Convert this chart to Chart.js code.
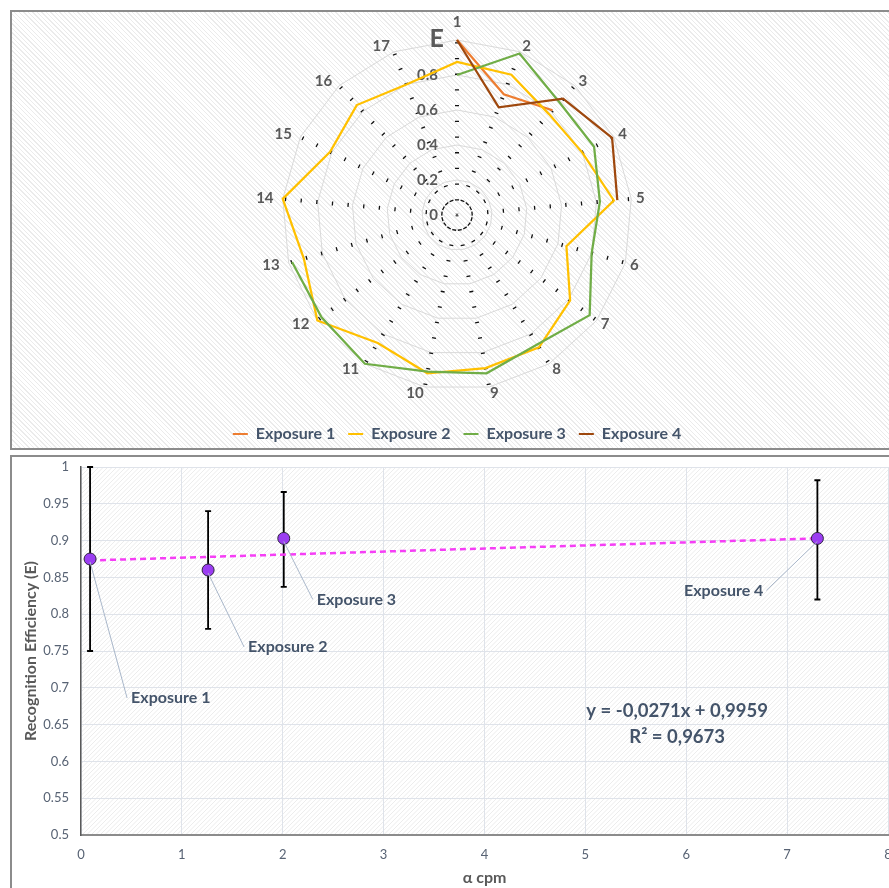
<!DOCTYPE html>
<html>
<head>
<meta charset="utf-8">
<script src="https://cdn.jsdelivr.net/npm/chart.js@4.4.1/dist/chart.umd.min.js"></script>
<style>
  html, body { margin: 0; padding: 0; background: #fff; overflow: hidden; width: 889px; height: 888px; }
  .panel { position: absolute; left: 10px; width: 910px; box-sizing: border-box; border: 2px solid #8c8c8c; overflow: hidden; }
  #top { top: 10px; height: 440px;
    background: repeating-linear-gradient(45deg, #fff 0px, #fff 2.2px, #ebebeb 2.2px, #ebebeb 3.2px); }
  #bot { top: 455px; height: 460px; background: #fff; }
  canvas { position: absolute; left: 0; top: 0; }
</style>
</head>
<body>
<div class="panel" id="top"><canvas id="radar" width="890" height="440"></canvas></div>
<div class="panel" id="bot"><canvas id="scatter" width="890" height="431"></canvas></div>
<script>
// ---- radar data (E per exposure, 17 positions) ----
const categories = ['1','2','3','4','5','6','7','8','9','10','11','12','13','14','15','16','17'];
const exposure1 = [1.00, 0.74, 0.81, null, null, null, null, null, null, null, null, null, null, null, null, null, null];
const exposure2 = [0.875, 0.86, 0.78, 0.80, 0.90, 0.65, 0.81, 0.89, 0.89, 0.92, 0.86, 1.00, 0.91, 1.00, 0.81, 0.85, 0.80];
const exposure3 = [0.80, 0.99, 0.87, 0.875, 0.82, 0.80, 0.95, 0.87, 0.92, 0.91, 1.00, 0.97, 0.98, null, null, null, null];
const exposure4 = [1.00, 0.66, 0.90, 0.99, 0.92, null, null, null, null, null, null, null, null, null, null, null, null];
const seriesNames = ['Exposure 1', 'Exposure 2', 'Exposure 3', 'Exposure 4'];
const radarAxisTitle = 'E';

// ---- scatter data ----
const alphaCpm = [0.09, 1.26, 2.01, 7.30];
const efficiency = [0.875, 0.860, 0.903, 0.903];
const errLow = [0.750, 0.780, 0.837, 0.820];
const errHigh = [1.000, 0.940, 0.966, 0.982];
const trendX = [0.09, 7.30];
const trendY = [0.873, 0.903];
const trendText = ['y = -0,0271x + 0,9959', 'R\u00b2 = 0,9673'];

const colors = ['#ED7D31', '#FFC000', '#70AD47', '#9E480E'];
const labelInk = '#44546A';
const axisInk = '#595959';
const FONT = 'Lato';

Chart.defaults.font.family = FONT;
Chart.defaults.animation = false;

// value labels left of the vertical spoke + axis title "E"
const radarTicks = {
  id: 'radarTicks',
  beforeDatasetsDraw(chart) {
    const s = chart.scales.r;
    const ctx = chart.ctx;
    ctx.save();
    ctx.fillStyle = axisInk;
    ctx.textAlign = 'right';
    ctx.textBaseline = 'middle';
    ctx.font = 'bold 15px ' + FONT;
    s.ticks.forEach(t => {
      if (t.value >= s.max) return;
      ctx.fillText(t.label, s.xCenter - 19, s.yCenter - s.getDistanceFromCenterForValue(t.value));
    });
    ctx.font = 'bold 25px ' + FONT;
    ctx.fillText(radarAxisTitle, s.xCenter - 13, s.yCenter - s.drawingArea - 1);
    ctx.restore();
  }
};

// category labels, placed the way excel does (centred beside the outer ring)
const radarPointLabels = {
  id: 'radarPointLabels',
  afterDraw(chart) {
    const s = chart.scales.r;
    const ctx = chart.ctx;
    ctx.save();
    ctx.font = 'bold 15px ' + FONT;
    ctx.fillStyle = axisInk;
    ctx.textAlign = 'center';
    ctx.textBaseline = 'middle';
    categories.forEach((c, i) => {
      const ang = s.getIndexAngle(i);
      const sin = Math.sin(ang), cos = Math.cos(ang);
      const w = ctx.measureText(c).width;
      const p = s.getPointPosition(i, s.drawingArea);
      const x = p.x + Math.sign(sin) * (w + 0.5) * Math.pow(Math.abs(sin), 0.35);
      const y = Math.abs(sin) < 0.05 ? p.y - cos * 18 : p.y - cos * 6.5;
      ctx.fillText(c, x, y);
    });
    ctx.restore();
  }
};

const radarSets = [exposure1, exposure2, exposure3, exposure4].map((d, i) => ({
  label: seriesNames[i],
  data: d,
  borderColor: colors[i],
  backgroundColor: colors[i],
  borderWidth: 2.25,
  fill: false,
  pointRadius: 0,
  spanGaps: false,
  order: 4 - i
}));

new Chart(document.getElementById('radar'), {
  type: 'radar',
  data: { labels: categories, datasets: radarSets },
  options: {
    responsive: false,
    layout: { padding: { top: 28, bottom: 0 } },
    plugins: {
      tooltip: { enabled: false },
      legend: {
        position: 'bottom',
        // empty title only used as a spacer above the items
        title: { display: true, text: '', font: { size: 10 }, padding: { top: 0, bottom: 11 } },
        labels: {
          boxWidth: 15,
          boxHeight: 2,
          padding: 13,
          color: labelInk,
          font: { size: 16, weight: 'bold' },
          sort: (a, b) => a.datasetIndex - b.datasetIndex,
          generateLabels(chart) {
            return Chart.defaults.plugins.legend.labels.generateLabels(chart).map(it => {
              it.lineWidth = 0;
              it.fillStyle = it.strokeStyle;
              return it;
            });
          }
        }
      }
    },
    scales: {
      r: {
        min: 0,
        max: 1,
        ticks: { stepSize: 0.2, display: false },
        grid: { color: '#d9d9d9', lineWidth: 1 },
        angleLines: { color: '#111', lineWidth: 4, borderDash: [1.3, 14.4], borderDashOffset: 1.2 },
        pointLabels: { display: false }
      }
    }
  },
  plugins: [radarTicks, radarPointLabels]
});

// ---- scatter with error bars ----
const labelOffsets = [[41, 139, 'left'], [40, 77, 'left'], [33, 61, 'left'], [-54, 52, 'right']];

const plotHatch = {
  id: 'plotHatch',
  beforeDraw(chart) {
    const a = chart.chartArea;
    const ctx = chart.ctx;
    ctx.save();
    ctx.beginPath();
    ctx.rect(a.left, a.top, a.right - a.left, a.bottom - a.top);
    ctx.clip();
    ctx.strokeStyle = '#ececec';
    ctx.lineWidth = 1;
    const h = a.bottom - a.top;
    ctx.beginPath();
    for (let k = -h; k < a.right - a.left; k += 4.5) {
      ctx.moveTo(a.left + k, a.bottom);
      ctx.lineTo(a.left + k + h, a.top);
    }
    ctx.stroke();
    ctx.restore();
  }
};

const errorBars = {
  id: 'errorBars',
  beforeDatasetsDraw(chart) {
    const x = chart.scales.x, y = chart.scales.y, ctx = chart.ctx;
    ctx.save();
    ctx.strokeStyle = '#000';
    ctx.lineWidth = 1.8;
    alphaCpm.forEach((v, i) => {
      const px = x.getPixelForValue(v);
      const y1 = y.getPixelForValue(errHigh[i]);
      const y2 = y.getPixelForValue(errLow[i]);
      ctx.beginPath();
      ctx.moveTo(px, y1); ctx.lineTo(px, y2);
      ctx.moveTo(px - 3, y1); ctx.lineTo(px + 3, y1);
      ctx.moveTo(px - 3, y2); ctx.lineTo(px + 3, y2);
      ctx.stroke();
    });
    ctx.restore();
  },
  afterDatasetsDraw(chart) {
    const x = chart.scales.x, y = chart.scales.y, ctx = chart.ctx;
    ctx.save();
    ctx.font = 'bold 16px ' + FONT;
    ctx.fillStyle = labelInk;
    ctx.textBaseline = 'middle';
    alphaCpm.forEach((v, i) => {
      const px = x.getPixelForValue(v);
      const py = y.getPixelForValue(efficiency[i]);
      const [dx, dy, al] = labelOffsets[i];
      const lx = px + dx + (al === 'left' ? -4 : 3);
      ctx.strokeStyle = '#a9b7ca';
      ctx.lineWidth = 1;
      ctx.beginPath();
      ctx.moveTo(px, py + 3);
      ctx.lineTo(lx, py + dy);
      ctx.stroke();
      ctx.textAlign = al;
      ctx.fillText(seriesNames[i], px + dx, py + dy);
    });
    // trendline equation
    ctx.font = 'bold 18.5px ' + FONT;
    ctx.textAlign = 'center';
    const ex = x.getPixelForValue(5.91), ey = y.getPixelForValue(0.6685);
    ctx.fillText(trendText[0], ex, ey);
    ctx.fillText(trendText[1], ex, ey + 26);
    ctx.restore();
  }
};

new Chart(document.getElementById('scatter'), {
  type: 'scatter',
  data: {
    datasets: [
      {
        label: 'E',
        data: alphaCpm.map((v, i) => ({ x: v, y: efficiency[i] })),
        backgroundColor: '#9B3DF2',
        borderColor: '#2f2540',
        borderWidth: 1,
        pointRadius: 6,
        order: 0
      },
      {
        type: 'line',
        label: 'trend',
        data: trendX.map((v, i) => ({ x: v, y: trendY[i] })),
        borderColor: '#F53EF5',
        borderWidth: 2.5,
        borderDash: [6, 4],
        pointRadius: 0,
        fill: false,
        order: 1
      }
    ]
  },
  options: {
    responsive: false,
    layout: { padding: 0 },
    plugins: { legend: { display: false }, tooltip: { enabled: false } },
    scales: {
      x: {
        type: 'linear',
        min: 0, max: 8,
        ticks: { stepSize: 1, color: '#586374', font: { size: 13 }, padding: 12 },
        grid: { color: '#dfe3ea', drawTicks: false },
        border: { color: '#8c8c8c', width: 2 },
        title: { display: true, text: '\u03b1 cpm', color: axisInk, font: { size: 16, weight: 'bold' }, padding: { bottom: 1, top: 0 } },
        afterFit(scale) { scale.height = 53; scale.paddingRight = 14; }
      },
      y: {
        min: 0.5, max: 1,
        ticks: { stepSize: 0.05, color: '#586374', font: { size: 13 }, padding: 12,
          callback: v => String(+v.toFixed(2)) },
        grid: { color: '#dfe3ea', drawTicks: false },
        border: { color: '#595959', width: 1.5 },
        title: { display: true, text: 'Recognition Efficiency (E)', color: axisInk, font: { size: 16, weight: 'bold' }, padding: { top: 9.4, bottom: 0 } },
        afterFit(scale) { scale.width = 69; scale.paddingTop = 10; }
      }
    }
  },
  plugins: [plotHatch, errorBars]
});
</script>
</body>
</html>
